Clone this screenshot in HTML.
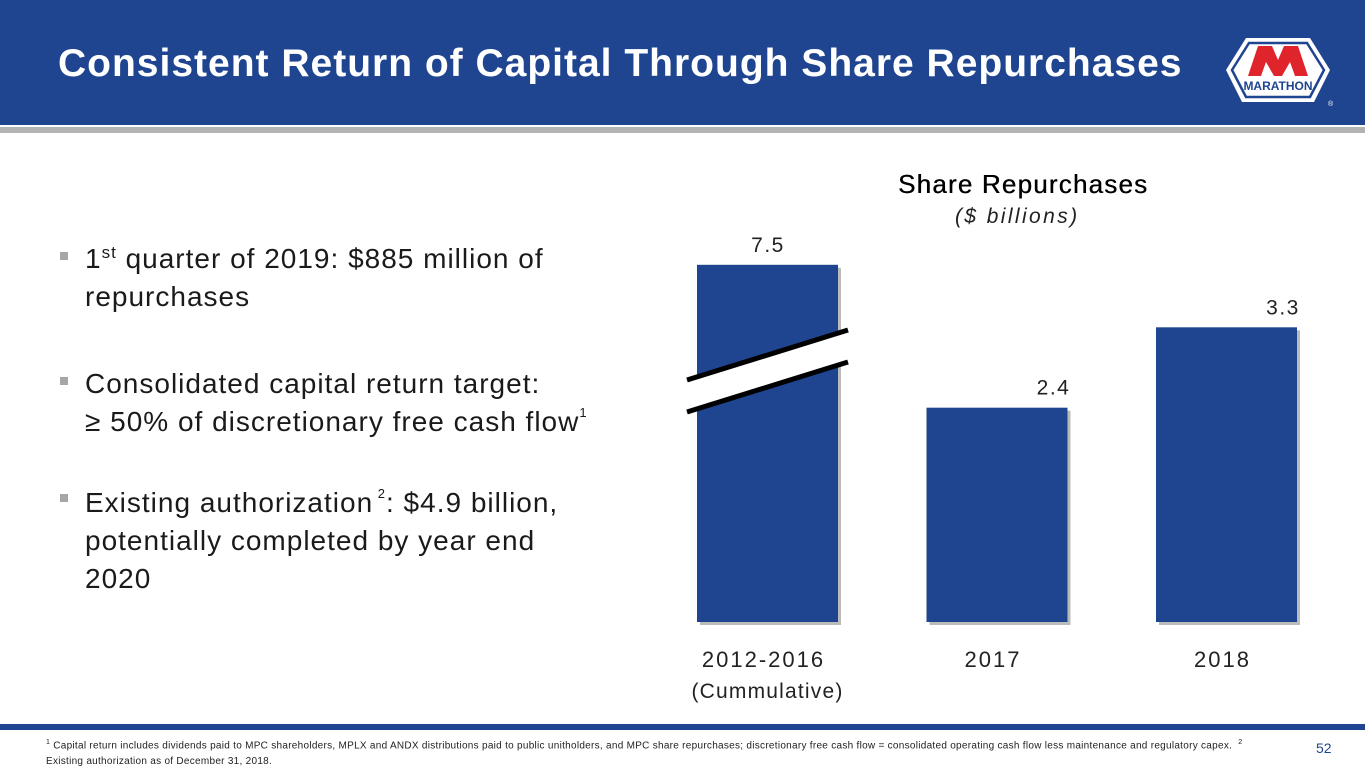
<!DOCTYPE html>
<html><head><meta charset="utf-8"><style>
body{margin:0;width:1365px;height:768px;position:relative;background:#fff;font-family:"Liberation Sans",sans-serif;overflow:hidden}
.abs{position:absolute}
.b{position:absolute;left:60px;width:8px;height:8px;background:#a6a6a6}
.t{position:absolute;left:85px;font-size:28px;letter-spacing:1px;color:#1a1a1a;line-height:38px;white-space:nowrap}
</style></head><body>
<div class="abs" style="left:0;top:0;width:1365px;height:125px;background:#1f4590"></div>
<div class="abs" style="left:0;top:127px;width:1365px;height:6px;background:#b3b3b3"></div>
<div class="abs" style="left:58px;top:42px;font-size:39px;font-weight:bold;color:#fff;letter-spacing:1px;white-space:nowrap">Consistent Return of Capital Through Share Repurchases</div>
<svg class="abs" style="left:1220px;top:36px" width="116" height="72" viewBox="0 0 116 72">
<path d="M26 2 H90 L110 34 L94 66 H22 L6 34 Z" fill="#fff"/>
<path d="M29 7 H87 L104 34 L90 61 H26 L12 34 Z" fill="none" stroke="#1f4590" stroke-width="2.5"/>
<path d="M28 40 L38 10 H52 L58 24 L64 10 H78 L88 40 H75 L70 26 L62 40 H54 L46 26 L41 40 Z" fill="#e0242b"/>
<text x="58" y="54" text-anchor="middle" font-family="Liberation Sans" font-weight="bold" font-size="12" fill="#1f4590">MARATHON</text>
<text x="108" y="70" font-size="7" fill="#fff">®</text>
</svg>

<div class="b" style="top:252px"></div>
<div class="t" style="top:240px">1<sup style="font-size:17px;vertical-align:10px;line-height:0">st</sup> quarter of 2019: $885 million of<br>repurchases</div>
<div class="b" style="top:377px"></div>
<div class="t" style="top:365px">Consolidated capital return target:<br>≥ 50% of discretionary free cash flow<sup style="font-size:13px;vertical-align:14px;line-height:0">1</sup></div>
<div class="b" style="top:494px"></div>
<div class="t" style="top:484px">Existing authorization<sup style="font-size:13px;vertical-align:14px;line-height:0"> 2</sup>: $4.9 billion,<br>potentially completed by year end<br>2020</div>

<div class="abs" style="left:898px;top:169px;font-size:26px;letter-spacing:1.2px;color:#000;text-shadow:0.4px 0 0 #000">Share Repurchases</div>
<div class="abs" style="left:955px;top:205px;font-size:21px;letter-spacing:2.4px;font-style:italic;color:#222">($ billions)</div>

<svg class="abs" id="chart" style="left:0;top:0" width="1365" height="768"></svg>

<div class="abs" style="left:0;top:724px;width:1365px;height:6px;background:#1f4590"></div>
<div class="abs" style="left:46px;top:735px;font-size:10px;letter-spacing:0.28px;color:#222;line-height:16px;width:1260px"><sup style="font-size:7px">1</sup> Capital return includes dividends paid to MPC shareholders, MPLX and ANDX distributions paid to public unitholders, and MPC share repurchases; discretionary free cash flow = consolidated operating cash flow less maintenance and regulatory capex. &nbsp;<sup style="font-size:7px">2</sup><br>Existing authorization as of December 31, 2018.</div>
<div class="abs" style="left:1316px;top:740px;font-size:14px;color:#1f4590">52</div>

<script>
const categories=["2012-2016","2017","2018"];
const values=[7.5,2.4,3.3];
const valueLabels=["7.5","2.4","3.3"];
const brokenCap=[4.0,null,null];
const svg=document.getElementById('chart');
const NS='http://www.w3.org/2000/svg';
const base=622, pxPerUnit=89.3, x0=697, step=229.5, bw=141;
function y(v){return base-v*pxPerUnit;}
function mk(t,a){const e=document.createElementNS(NS,t);for(const k in a)e.setAttribute(k,a[k]);svg.appendChild(e);return e;}
categories.forEach((c,i)=>{
  const v=brokenCap[i]!=null?brokenCap[i]:values[i];
  const x=x0+i*step, top=y(v);
  const sh=mk('rect',{x:x+3,y:top+3,width:bw,height:base-top,fill:'#bbb'});
  
  
  const r=mk('rect',{x:x,y:top,width:bw,height:base-top,fill:'#1f4590'});
  
  
  const lt=mk('text',{x:i==0?x+71:x+bw-14,y:top-13,'text-anchor':'middle','font-size':21,'letter-spacing':1.5,fill:'#222','font-family':'Liberation Sans'});
  lt.textContent=valueLabels[i];
  
  
  const ct=mk('text',{x:x+bw/2-4,y:667,'text-anchor':'middle','font-size':22,'letter-spacing':2,fill:'#222','font-family':'Liberation Sans'});
  ct.textContent=c;
  
  
  if(brokenCap[i]!=null){
    const p=mk('polygon',{points:`${x-10},380 ${x+bw+10},330 ${x+bw+10},362 ${x-10},412`,fill:'#fff'});
    
    
    const l1=mk('line',{x1:x-10,y1:380,x2:x+bw+10,y2:330,stroke:'#000','stroke-width':5});
    
    
    const l2=mk('line',{x1:x-10,y1:412,x2:x+bw+10,y2:362,stroke:'#000','stroke-width':5});
    
    
  }
});
const cm=mk('text',{x:x0+bw/2,y:698,'text-anchor':'middle','font-size':21,'letter-spacing':1.2,fill:'#222','font-family':'Liberation Sans'});
cm.textContent='(Cummulative)';


</script>
</body></html>
